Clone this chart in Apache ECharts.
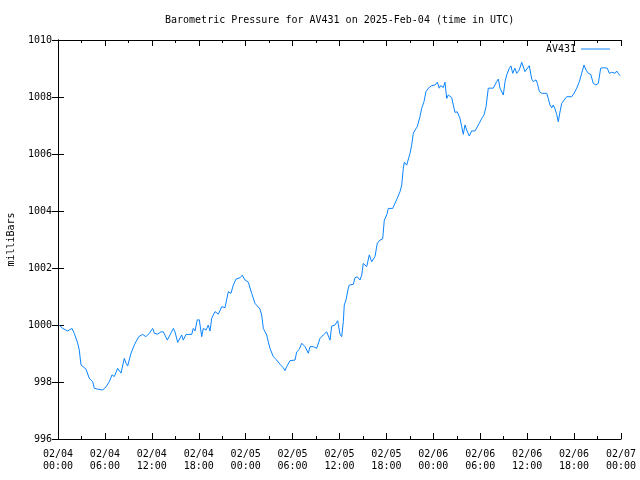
<!DOCTYPE html>
<html><head><meta charset="utf-8">
<script src="https://cdn.jsdelivr.net/npm/echarts@6/dist/echarts.min.js"></script>
<style>html,body{margin:0;padding:0;background:#fff}#c{width:640px;height:480px}</style>
</head><body><div id="c"></div>
<script>
const titleText = 'Barometric Pressure for AV431 on 2025-Feb-04 (time in UTC)';
const seriesName = 'AV431';
const yName = 'milliBars';
const xTickLabels = ['02/04\n00:00','02/04\n06:00','02/04\n12:00','02/04\n18:00','02/05\n00:00','02/05\n06:00','02/05\n12:00','02/05\n18:00','02/06\n00:00','02/06\n06:00','02/06\n12:00','02/06\n18:00','02/07\n00:00'];
// hours since 2025-02-04 00:00 UTC
const hours = [0.13,0.60,1.24,1.79,2.08,2.52,2.72,2.94,3.16,3.58,4.00,4.44,4.64,5.08,5.72,6.14,6.56,6.91,7.20,7.63,8.06,8.27,8.48,8.70,8.91,9.34,9.76,10.32,10.83,11.25,11.68,12.11,12.32,12.75,13.17,13.47,13.98,14.32,14.75,14.96,15.31,15.82,16.02,16.37,17.10,17.30,17.52,17.81,18.07,18.38,18.58,18.93,19.22,19.44,19.66,20.08,20.50,20.94,21.36,21.78,22.12,22.42,22.76,23.28,23.57,23.91,24.34,24.77,25.19,25.41,25.83,26.05,26.26,26.69,26.89,27.11,27.33,27.53,27.97,28.39,28.81,29.03,29.25,29.67,30.31,30.53,30.86,31.17,31.59,32.01,32.23,32.65,33.08,33.51,33.93,34.36,34.57,34.79,35.00,35.42,35.77,36.06,36.28,36.49,36.61,36.83,37.13,37.25,37.77,37.98,38.28,38.62,38.84,39.04,39.48,39.81,40.12,40.32,40.54,40.83,41.18,41.52,41.73,42.04,42.24,42.80,43.10,43.39,43.74,43.96,44.16,44.29,44.59,44.80,45.02,45.23,45.44,45.66,45.95,46.29,46.51,46.81,47.06,47.36,47.79,48.21,48.51,48.76,48.94,49.27,49.49,49.71,49.91,50.13,50.35,50.55,50.77,51.06,51.41,51.63,51.83,52.05,52.27,52.60,52.91,53.33,53.55,53.88,54.19,54.48,54.74,55.03,55.67,56.10,56.31,56.53,56.74,56.95,57.17,57.38,57.72,57.93,58.15,58.44,58.66,58.99,59.30,59.72,59.94,60.27,60.58,60.79,61.13,61.30,61.56,61.86,62.50,62.70,62.92,63.14,63.34,63.56,63.78,63.98,64.20,64.42,64.62,65.06,65.70,65.99,66.34,66.67,66.97,67.27,67.52,67.82,68.12,68.45,68.80,69.10,69.40,69.74,70.25,70.51,70.81,71.02,71.24,71.45,71.66,71.87];
const pressure = [1000.00,999.88,999.79,999.88,999.71,999.36,999.12,998.60,998.54,998.45,998.13,998.01,997.78,997.75,997.72,997.83,998.01,998.25,998.19,998.48,998.31,998.36,998.83,998.66,998.56,999.01,999.30,999.59,999.67,999.59,999.71,999.88,999.71,999.68,999.76,999.76,999.47,999.65,999.88,999.76,999.39,999.65,999.47,999.67,999.67,999.88,999.79,1000.18,1000.18,999.59,999.88,999.82,1000.00,999.79,1000.24,1000.47,1000.38,1000.64,1000.61,1001.17,1001.11,1001.40,1001.61,1001.66,1001.75,1001.58,1001.50,1001.11,1000.76,1000.73,1000.56,1000.35,999.88,999.65,999.41,999.18,999.24,998.89,998.77,998.62,998.50,998.40,998.54,998.75,998.77,999.06,999.15,999.36,999.24,999.01,999.24,999.24,999.18,999.53,999.65,999.76,999.71,999.47,999.96,1000.00,1000.15,999.68,999.59,1000.12,1000.70,1000.88,1001.29,1001.40,1001.43,1001.66,1001.69,1001.58,1001.75,1002.16,1002.05,1002.46,1002.22,1002.22,1002.40,1002.87,1002.98,1003.02,1003.68,1003.86,1004.09,1004.09,1004.27,1004.45,1004.68,1004.91,1005.50,1005.71,1005.61,1005.64,1006.02,1006.32,1006.73,1006.84,1006.96,1007.31,1007.60,1007.84,1008.19,1008.31,1008.40,1008.42,1008.52,1008.31,1008.40,1008.33,1008.52,1007.95,1008.07,1008.09,1007.98,1007.72,1007.46,1007.48,1007.25,1006.96,1006.69,1007.02,1006.84,1006.63,1006.81,1006.81,1006.88,1007.08,1007.25,1007.37,1007.66,1008.31,1008.31,1008.54,1008.63,1008.31,1008.25,1008.07,1008.54,1008.77,1009.01,1009.09,1008.83,1009.01,1008.83,1008.95,1009.22,1008.89,1008.83,1009.10,1008.63,1008.54,1008.60,1008.48,1008.19,1008.13,1008.13,1007.95,1007.72,1007.62,1007.72,1007.58,1007.39,1007.13,1007.48,1007.78,1007.84,1008.01,1008.01,1008.13,1008.31,1008.54,1008.83,1009.12,1008.95,1008.83,1008.80,1008.48,1008.42,1008.48,1009.01,1009.03,1009.01,1008.83,1008.87,1008.89,1008.83,1008.91,1008.83,1008.75];

const data = hours.map((h, i) => [h, pressure[i]]);
const font = 'DejaVu Sans Mono';
const fs = 10;
const lineColor = '#0a84ff';
const axisCommon = {
  axisLine: {show: true, lineStyle: {color: '#000', width: 1}},
  splitLine: {show: false}
};
const chart = echarts.init(document.getElementById('c'), null, {renderer: 'canvas'});
chart.setOption({
  animation: false,
  backgroundColor: '#fff',
  title: {text: titleText, left: 165, top: 15, padding: 0,
    textStyle: {fontFamily: font, fontSize: fs, fontWeight: 'normal', color: '#000'}},
  legend: {data: [{name: seriesName, icon: 'rect'}], right: 30, top: 44, align: 'right',
    padding: 0, itemWidth: 29, itemHeight: 1, itemGap: 0,
    textStyle: {fontFamily: font, fontSize: fs, color: '#000'}},
  grid: {left: 58, right: 19, top: 40, bottom: 41, containLabel: false, outerBoundsMode: 'none'},
  xAxis: [
    Object.assign({type: 'value', min: 0, max: 72, interval: 6, position: 'bottom',
      axisTick: {show: true, inside: true, length: 6, lineStyle: {color: '#000'}},
      minorTick: {show: true, splitNumber: 2, length: 3, lineStyle: {color: '#000'}},
      axisLabel: {margin: 9, fontFamily: font, fontSize: fs, color: '#000', lineHeight: 12,
        formatter: v => xTickLabels[Math.round(v / 6)] || ''}}, axisCommon),
    Object.assign({type: 'value', min: 0, max: 72, interval: 6, position: 'top',
      axisTick: {show: true, inside: true, length: 6, lineStyle: {color: '#000'}},
      minorTick: {show: true, splitNumber: 2, length: 3, lineStyle: {color: '#000'}},
      axisLabel: {show: false}}, axisCommon)
  ],
  yAxis: [
    Object.assign({type: 'value', min: 996, max: 1010, interval: 2, position: 'left',
      name: yName, nameLocation: 'middle', nameGap: 42, nameRotate: 90,
      nameTextStyle: {fontFamily: font, fontSize: fs, color: '#000'},
      axisTick: {show: true, inside: true, length: 6, lineStyle: {color: '#000'}},
      axisLabel: {margin: 6, fontFamily: font, fontSize: fs, color: '#000',
        formatter: v => String(v)}}, axisCommon),
    Object.assign({type: 'value', min: 996, max: 1010, interval: 2, position: 'right',
      axisTick: {show: true, inside: true, length: 6, lineStyle: {color: '#000'}},
      axisLabel: {show: false}}, axisCommon)
  ],
  series: [{
    name: seriesName, type: 'line', data: data, showSymbol: false, symbol: 'none',
    lineStyle: {color: lineColor, width: 1}, itemStyle: {color: lineColor}
  }]
});
</script></body></html>
